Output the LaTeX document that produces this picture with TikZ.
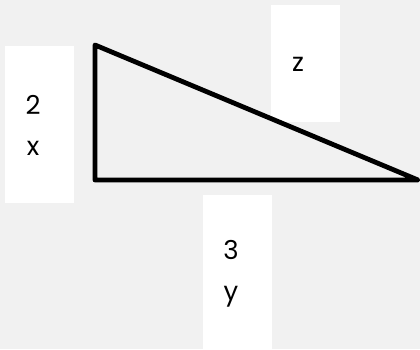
\documentclass[tikz,border=0pt]{standalone}
\usepackage{fontspec}
\setmainfont{Poppins}
\usetikzlibrary{positioning}
\definecolor{bggray}{HTML}{F1F1F1}
\tikzset{
    labelbox/.style={fill=white, draw=none, anchor=north west, inner sep=0pt,
        minimum width=#1},
    labeltext/.style={font=\fontsize{26}{41}\selectfont, align=center, inner sep=0pt},
    edgeline/.style={draw=black, line width=4.8pt, line join=round},
}
\begin{document}
\begin{tikzpicture}[x=1pt, y=-1pt]

    % ── Canvas ─────────────────────────────────────────────────────────────
    \fill[bggray] (0,0) rectangle (420,349);
    \useasboundingbox (0,0) rectangle (420,349);

    % ── Label boxes ────────────────────────────────────────────────────────
    \node[labelbox=69pt, minimum height=157pt] (boxleft) at (5,46) {};
    \node[labelbox=69pt, minimum height=117pt] (boxtop) at (271,5) {};
    \node[labelbox=69pt, minimum height=154pt] (boxbottom) at (203,195) {};

    % ── Labels ─────────────────────────────────────────────────────────────
    \node[labeltext] (sidex) at (33,125) {2\\x};
    \node[labeltext] (sidez) at (298,64) {z};
    \node[labeltext] (sidey) at (231,274) {3\\y};

    % ── Triangle ───────────────────────────────────────────────────────────
    \draw[edgeline] (95,45) -- (95,180) -- (418,180) -- cycle;

\end{tikzpicture}
\end{document}
